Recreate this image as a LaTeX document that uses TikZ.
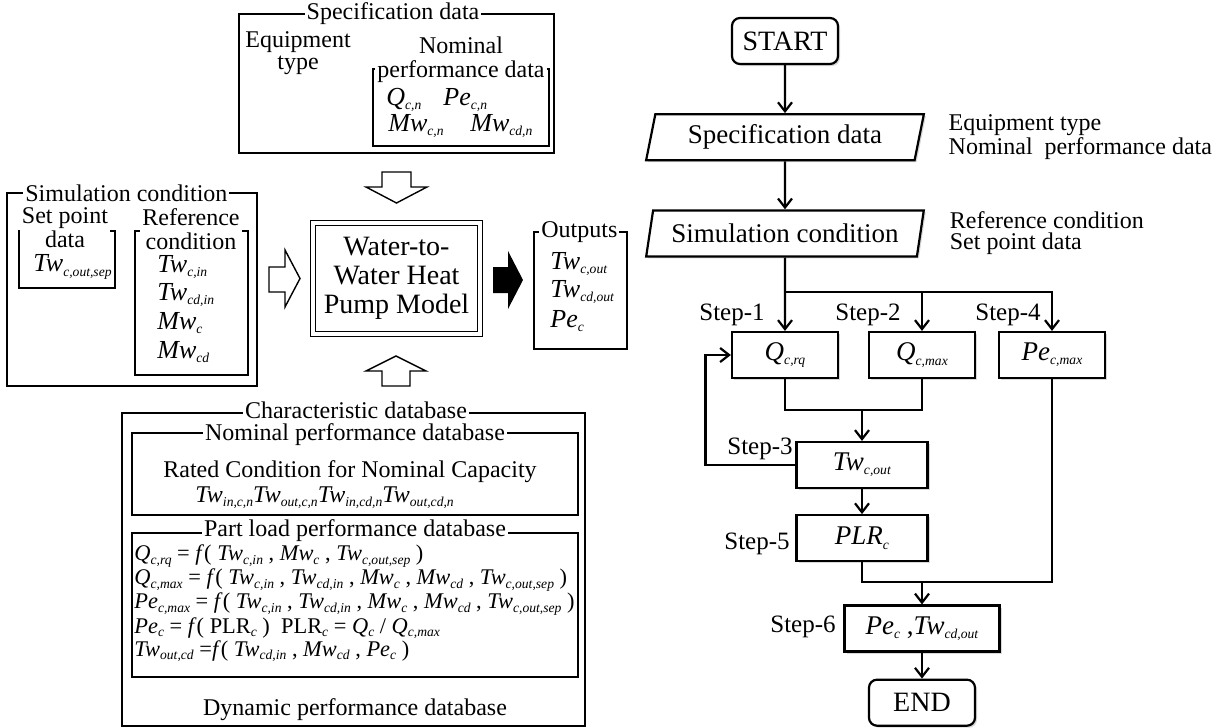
\documentclass[tikz,border=0pt]{standalone}
\usepackage{fontspec}
\setmainfont{Liberation Serif}
\usetikzlibrary{arrows.meta,positioning,shapes.geometric,shadows}

\newcommand{\sbs}[1]{\lower0.35ex\hbox{\fontsize{6.8}{6.8}\selectfont\textit{#1}}}
\newcommand{\vv}[2]{\textit{#1}\sbs{#2}}

\begin{document}
\begin{tikzpicture}[x=0.5pt, y=-0.5pt,
    frame/.style={rectangle, draw=black, line width=0.7pt, inner sep=0pt},
    ftitle/.style={fill=white, inner xsep=1pt, inner ysep=0pt, align=center, font=\fontsize{12}{12}\selectfont},
    ltext/.style={inner sep=0pt, align=center, font=\fontsize{12}{11}\selectfont},
    var/.style={inner sep=0pt, anchor=west, font=\fontsize{13}{13}\selectfont},
    formula/.style={var, font=\fontsize{11.2}{11.2}\selectfont},
    hollow/.style={draw=black, line width=0.7pt, fill=white, line join=miter},
    fbox/.style={rectangle, draw=black, line width=1.1pt, fill=white, minimum width=53pt, minimum height=23pt, font=\fontsize{13.5}{13.5}\selectfont, drop shadow={shadow xshift=1pt, shadow yshift=-1pt, opacity=0.3}},
    term/.style={fbox, rounded corners=4pt, font=\fontsize{14}{14}\selectfont},
    io/.style={fbox, trapezium, trapezium left angle=79, trapezium right angle=101, trapezium stretches=true, minimum width=139pt},
    steplbl/.style={inner sep=0pt, font=\fontsize{12.5}{12.5}\selectfont},
    note/.style={inner sep=0pt, align=left, font=\fontsize{12}{10.5}\selectfont},
    arrow/.style={-{Straight Barb[length=4.5pt, width=7pt]}, line width=1.1pt}
]
\useasboundingbox (0,0) rectangle (1212,728);

% Specification data
\node[frame, minimum width=157.5pt, minimum height=69.5pt] (specbox) at (396.5,83.5) {};
\node[ftitle] (spectitle) at (393,14) {Specification data};
\node[ltext] (equip) at (298,53) {Equipment\\type};
\node[frame, minimum width=88pt, minimum height=38.5pt] (nomdata) at (461,107.5) {};
\node[ftitle] (nomtitle) at (461,60) {Nominal\\performance data};
\node[var] (qcn) at (386,100) {\vv{Q}{c,n}};
\node[var] (pecn) at (443,100) {\vv{Pe}{c,n}};
\node[var] (mwcn) at (388,126) {\vv{Mw}{c,n}};
\node[var] (mwcdn) at (470,126) {\vv{Mw}{cd,n}};

% Simulation condition
\node[frame, minimum width=125pt, minimum height=96.5pt] (simbox) at (132,289.5) {};
\node[ftitle, anchor=west] (simtitle) at (23,193) {Simulation condition};
\node[frame, minimum width=48pt, minimum height=28.5pt] (setbox) at (67,259.5) {};
\node[ftitle] (settitle) at (65,228) {Set point\\data};
\node[var] (twsep) at (33,267) {\vv{Tw}{c,out,sep}};
\node[frame, minimum width=56.5pt, minimum height=72pt] (refbox) at (191.5,303) {};
\node[ftitle] (reftitle) at (191,229) {Reference\\condition};
\node[var] (twcin) at (157,267) {\vv{Tw}{c,in}};
\node[var] (twcdin) at (157,295) {\vv{Tw}{cd,in}};
\node[var] (mwc) at (157,323) {\vv{Mw}{c}};
\node[var] (mwcd) at (157,352) {\vv{Mw}{cd}};

% Model
\node[draw, double, double distance=1.6pt, line width=0.7pt, minimum width=83.5pt, minimum height=55.5pt, inner sep=0pt, align=center, font=\fontsize{14}{14.5}\selectfont] (model) at (396.5,278.5) {Water-to-\\Water Heat\\Pump Model};

% Outputs
\node[frame, minimum width=46.5pt, minimum height=58.5pt] (outbox) at (580.5,290.5) {};
\node[ftitle, anchor=west] (outtitle) at (539,232) {Outputs};
\node[var] (out1) at (550,264) {\vv{Tw}{c,out}};
\node[var] (out2) at (550,292) {\vv{Tw}{cd,out}};
\node[var] (out3) at (550,321) {\vv{Pe}{c}};

% Block arrows
\draw[hollow] (382,172) -- (411,172) -- (411,187) -- (427,187) -- (396.5,203) -- (366,187) -- (382,187) -- cycle;
\draw[hollow] (269,267) -- (285,267) -- (285,250) -- (300,278.5) -- (285,307) -- (285,292) -- (269,292) -- cycle;
\draw[hollow] (382,386) -- (382,371) -- (366,371) -- (396,356) -- (426,371) -- (410,371) -- (410,386) -- cycle;
\fill (493,267) -- (508,267) -- (508,251) -- (523,280) -- (508,309) -- (508,293) -- (493,293) -- cycle;

% Characteristic database
\node[frame, minimum width=231.5pt, minimum height=156.5pt] (chardb) at (353.5,569.5) {};
\node[ftitle] (chartitle) at (356,410) {Characteristic database};
\node[frame, minimum width=223pt, minimum height=41pt] (nomdb) at (355,474) {};
\node[ftitle] (nomdbtitle) at (355,435) {Nominal performance database};
\node[ltext] (rated) at (350,472) {Rated Condition for Nominal Capacity};
\node[var, font=\fontsize{12}{12}\selectfont] (ratedtw) at (195,498) {\vv{Tw}{in,c,n}\vv{Tw}{out,c,n}\vv{Tw}{in,cd,n}\vv{Tw}{out,cd,n}};
\node[frame, minimum width=223pt, minimum height=72pt] (partdb) at (355,605) {};
\node[ftitle] (partdbtitle) at (355,531) {Part load performance database};
\node[formula] (fqrq) at (134,556) {\vv{Q}{c,rq} = \textit{f}( \vv{Tw}{c,in} , \vv{Mw}{c} , \vv{Tw}{c,out,sep} )};
\node[formula] (fqmax) at (134,580) {\vv{Q}{c,max} = \textit{f}( \vv{Tw}{c,in} , \vv{Tw}{cd,in} , \vv{Mw}{c} , \vv{Mw}{cd} , \vv{Tw}{c,out,sep} )};
\node[formula] (fpemax) at (134,604) {\vv{Pe}{c,max} = \textit{f}( \vv{Tw}{c,in} , \vv{Tw}{cd,in} , \vv{Mw}{c} , \vv{Mw}{cd} , \vv{Tw}{c,out,sep} )};
\node[formula] (fpe) at (134,628) {\vv{Pe}{c} = \textit{f}( PLR\sbs{c} )\ \ PLR\sbs{c} = \vv{Q}{c} / \vv{Q}{c,max}};
\node[formula] (ftw) at (134,651) {\vv{Tw}{out,cd} =\textit{f}( \vv{Tw}{cd,in} , \vv{Mw}{cd} , \vv{Pe}{c} )};
\node[ltext] (dyn) at (355,710) {Dynamic performance database};

% Flowchart
\node[term] (start) at (785,41) {START};
\node[io, below=24pt of start] (specnode) {Specification data};
\node[io, below=24pt of specnode] (simnode) {Simulation condition};
\node[note, right=14pt of specnode] (specnote) {Equipment type\\Nominal~~performance data};
\node[note, right=14pt of simnode] (simnote) {Reference condition\\Set point data};

\node[fbox] (qrq) at (785,355) {\vv{Q}{c,rq}};
\node[fbox] (qmax) at (922,355) {\vv{Q}{c,max}};
\node[fbox] (pemax) at (1052,355) {\vv{Pe}{c,max}};
\node[fbox, minimum width=65.5pt] (twout) at (862,465) {\vv{Tw}{c,out}};
\node[fbox, minimum width=65.5pt, below=12.5pt of twout] (plr) {\vv{PLR}{c}};
\node[fbox, minimum width=77.5pt] (pet) at (922,628.5) {\vv{Pe}{c} ,\vv{Tw}{cd,out}};
\node[term, below=13pt of pet] (endnode) {END};

% Step labels
\node[steplbl] (step1) at (732,315) {Step-1};
\node[steplbl] (step2) at (868,315) {Step-2};
\node[steplbl] (step4) at (1008,315) {Step-4};
\node[steplbl] (step3) at (760,449) {Step-3};
\node[steplbl] (step5) at (757,544) {Step-5};
\node[steplbl] (step6) at (803,627) {Step-6};

% Arrows
\coordinate (split) at (785,292);
\coordinate (join1) at (862,410);
\coordinate (join2) at (922,582);
\draw[arrow] (start) -- (specnode);
\draw[arrow] (specnode) -- (simnode);
\draw[arrow] (simnode) -- (qrq);
\draw[arrow] (split) -| (qmax);
\draw[arrow] (split) -| (pemax);
\draw[line width=1.1pt] (qrq.south) |- (join1) -| (qmax.south);
\draw[arrow] (join1) -- (twout);
\draw[arrow] (twout.west) -- ++(-90,0) |- (qrq.west);
\draw[arrow] (twout) -- (plr);
\draw[line width=1.1pt] (plr.south) |- (join2) -| (pemax.south);
\draw[arrow] (join2) -- (pet);
\draw[arrow] (pet) -- (endnode);

\end{tikzpicture}
\end{document}
